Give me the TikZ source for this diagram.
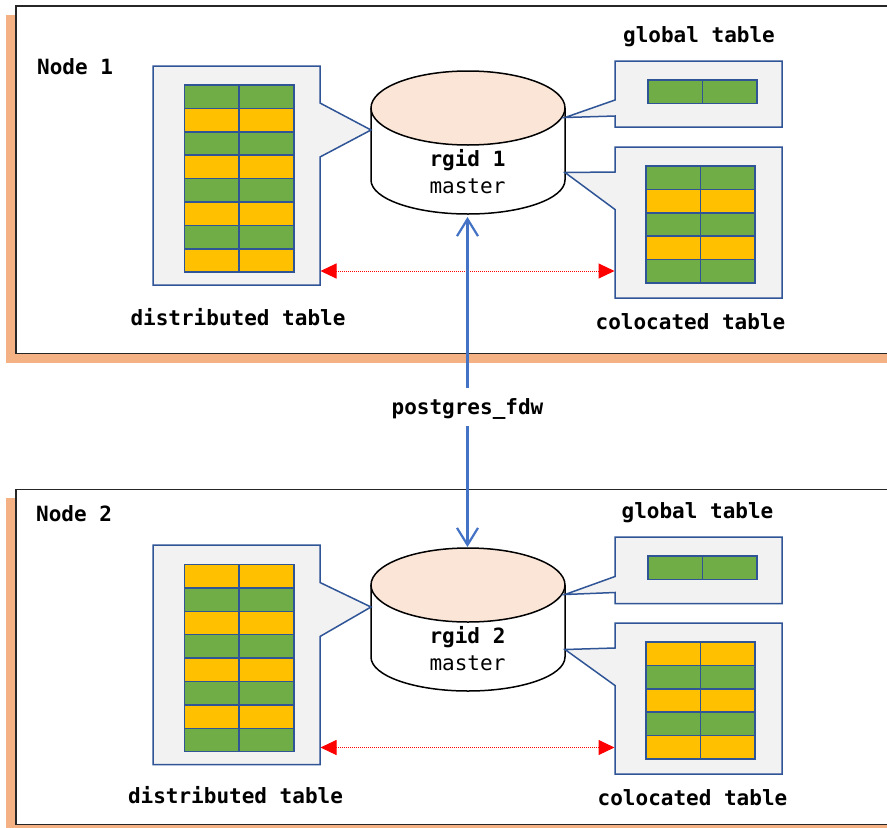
\documentclass[tikz,border=0pt]{standalone}
\usepackage{fontspec}
\setmainfont{DejaVu Sans Mono}
\usetikzlibrary{arrows.meta}
\definecolor{shadow}{HTML}{F4B183}
\definecolor{topc}{HTML}{FBE5D6}
\definecolor{calloutline}{HTML}{2F5597}
\definecolor{calloutfill}{HTML}{F2F2F2}
\definecolor{tgreen}{HTML}{70AD47}
\definecolor{torange}{HTML}{FFC000}
\definecolor{linkblue}{HTML}{4472C4}
\definecolor{linkred}{HTML}{FF0000}
\tikzset{
  shadowbox/.style={fill=shadow,draw=none},
  framebox/.style={fill=white,draw=black!85,line width=1.5pt},
  callout/.style={fill=calloutfill,draw=calloutline,line width=1.5pt,line join=miter},
  cell/.style={draw=calloutline,line width=1.5pt},
  cyl/.style={draw=black,line width=1.5pt},
  lbl/.style={font=\fontsize{21}{21}\selectfont\bfseries,inner sep=0pt},
  lblr/.style={font=\fontsize{21}{21}\selectfont,inner sep=0pt},
  redlink/.style={draw=linkred,line width=1pt,dash pattern=on 1pt off 1pt,
    {Triangle[length=16pt,width=15pt,color=linkred,fill=linkred,sep=0pt]}-{Triangle[length=16pt,width=15pt,color=linkred,fill=linkred]}},
  bluelink/.style={draw=linkblue,line width=2.2pt,-{Straight Barb[length=17pt,width=21pt,line width=2.2pt,color=linkblue]}},
}
% #1 x-left, #2 x-mid, #3 x-right, #4 y-top, #5 row height, #6 list of row colours
\newcommand{\tablerows}[6]{%
  \foreach \rowc [count=\i from 0] in {#6} {
    \fill[\rowc] (#1,{#4+\i*#5}) rectangle (#3,{#4+(\i+1)*#5});
    \draw[cell] (#1,{#4+\i*#5}) rectangle (#3,{#4+(\i+1)*#5});
    \draw[cell] (#2,{#4+\i*#5}) -- (#2,{#4+(\i+1)*#5});
  }%
}
\newcommand{\cylinder}[3]{% name, top-centre y, label
  \fill[white] (371,#2) -- (371,{#2+72}) arc[start angle=180,end angle=0,x radius=97,y radius=34] -- (565,#2) -- cycle;
  \draw[cyl] (371,#2) -- (371,{#2+72}) arc[start angle=180,end angle=0,x radius=97,y radius=34] -- (565,#2);
  \draw[cyl,fill=topc] (468,#2) ellipse[x radius=97,y radius=37];
  \node[lbl] (#1label) at (467.5,{#2+52}) {#3};
  \node[lblr] (#1role) at (467.5,{#2+78}) {master};
  \coordinate (#1west) at (371,{#2+22});
  \coordinate (#1top) at (467.5,{#2-38});
  \coordinate (#1bottom) at (467.5,{#2+109});
  \coordinate (#1global) at (565,{#2+9.5});
  \coordinate (#1coloc) at (565,{#2+64.5});
}
\begin{document}
\begin{tikzpicture}[x=1pt,y=-1pt]
\useasboundingbox (0,0) rectangle (887,828);
\clip (0,0) rectangle (887,828);
% first frame
\fill[shadowbox] (6,15) rectangle (900,363);
\draw[framebox] (16,6) rectangle (900,353.5);
% second frame
\fill[shadowbox] (6,498) rectangle (900,828);
\draw[framebox] (16,489.5) rectangle (900,824.5);

\node[lbl,anchor=base west] (node1) at (37,74) {Node 1};
\node[lbl,anchor=base west] (node2) at (36,521) {Node 2};

% cylinders
\cylinder{a}{108}{rgid 1}
\cylinder{b}{585}{rgid 2}

% callouts, node 1
\draw[callout] (153,66) -- (320,66) -- (320,103) -- (awest) -- (320,157) -- (320,285) -- (153,285) -- cycle;
\draw[callout] (615,61) -- (782,61) -- (782,127) -- (615,127) -- (615,116) -- (aglobal) -- (615,100) -- cycle;
\draw[callout] (615,147) -- (782,147) -- (782,298) -- (615,298) -- (615,209.5) -- (acoloc) -- (615,172) -- cycle;
\tablerows{184.5}{239}{294}{85}{23.4}{tgreen,torange,tgreen,torange,tgreen,torange,tgreen,torange}
\tablerows{648}{702.5}{757}{80}{23.4}{tgreen}
\tablerows{646}{700.5}{755}{166}{23.4}{tgreen,torange,tgreen,torange,tgreen}

% callouts, node 2
\draw[callout] (153,545) -- (320,545) -- (320,582.5) -- (bwest) -- (320,636.5) -- (320,764.5) -- (153,764.5) -- cycle;
\draw[callout] (615,537) -- (782,537) -- (782,603.5) -- (615,603.5) -- (615,592.5) -- (bglobal) -- (615,576.5) -- cycle;
\draw[callout] (615,623) -- (782,623) -- (782,774) -- (615,774) -- (615,685.5) -- (bcoloc) -- (615,648) -- cycle;
\tablerows{184.5}{239}{294}{564.5}{23.4}{torange,tgreen,torange,tgreen,torange,tgreen,torange,tgreen}
\tablerows{648}{702.5}{757}{556}{23.4}{tgreen}
\tablerows{646}{700.5}{755}{642}{23.4}{torange,tgreen,torange,tgreen,torange}

% labels
\node[lbl] (dist1) at (238,317) {distributed table};
\node[lbl] (glob1) at (699,37) {global table};
\node[lbl] (colo1) at (690.5,322) {colocated table};
\node[lbl] (dist2) at (235.5,795) {distributed table};
\node[lbl] (glob2) at (697.5,513) {global table};
\node[lbl] (colo2) at (692.5,798) {colocated table};

% red links
\coordinate (ar1) at (320.5,271); \coordinate (br1) at (614.5,271);
\coordinate (ar2) at (320.5,747.5); \coordinate (br2) at (614.5,747.5);
\draw[redlink] (ar1) -- (br1);
\draw[redlink] (ar2) -- (br2);

% fdw link
\node[lbl] (fdw) at (467.5,409) {postgres\_fdw};
\coordinate (fdwup) at (467.5,388);
\coordinate (fdwdown) at (467.5,426);
\draw[bluelink] (fdwup) -- (abottom);
\draw[bluelink] (fdwdown) -- (btop);
\end{tikzpicture}
\end{document}
